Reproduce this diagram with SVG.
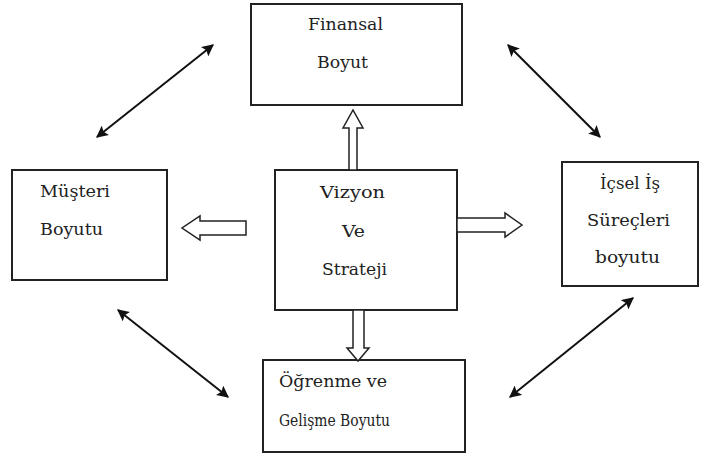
<svg xmlns="http://www.w3.org/2000/svg" width="722" height="457" viewBox="0 0 722 457">
<style>
.box{fill:#fff;stroke:#222;stroke-width:2}
.t{font-family:"DejaVu Serif",serif;font-size:16px;fill:#222}
.blk{fill:#fff;stroke:#222;stroke-width:1.5;stroke-linejoin:miter}
.dl{stroke:#111;stroke-width:2;fill:none;marker-start:url(#ah);marker-end:url(#ah)}
</style>
<defs>
<marker id="ah" viewBox="0 0 10 10" refX="9" refY="5" markerWidth="6" markerHeight="6" orient="auto-start-reverse" markerUnits="strokeWidth">
<path d="M0,0 L10,5 L0,10 L2,5 Z" fill="#111"/>
</marker>
</defs>
<rect width="722" height="457" fill="#fff"/>
<g id="finansal">
<rect class="box" x="251" y="4" width="211" height="101"/>
<text class="t" x="308" y="30" textLength="75" lengthAdjust="spacingAndGlyphs">Finansal</text>
<text class="t" x="317" y="68" textLength="51" lengthAdjust="spacingAndGlyphs">Boyut</text>
</g>
<g id="musteri">
<rect class="box" x="12" y="170" width="155" height="110"/>
<text class="t" x="40" y="197" textLength="70" lengthAdjust="spacingAndGlyphs">Müşteri</text>
<text class="t" x="40" y="235" textLength="63" lengthAdjust="spacingAndGlyphs">Boyutu</text>
</g>
<g id="vizyon">
<rect class="box" x="275" y="170" width="182" height="140"/>
<text class="t" x="320" y="198" textLength="65" lengthAdjust="spacingAndGlyphs">Vizyon</text>
<text class="t" x="342" y="237" textLength="23" lengthAdjust="spacingAndGlyphs">Ve</text>
<text class="t" x="322" y="275" textLength="65" lengthAdjust="spacingAndGlyphs">Strateji</text>
</g>
<g id="icsel">
<rect class="box" x="562" y="162" width="136" height="124"/>
<text class="t" x="600" y="189" textLength="60" lengthAdjust="spacingAndGlyphs">İçsel İş</text>
<text class="t" x="587" y="226" textLength="83" lengthAdjust="spacingAndGlyphs">Süreçleri</text>
<text class="t" x="595" y="263" textLength="65" lengthAdjust="spacingAndGlyphs">boyutu</text>
</g>
<g id="ogrenme">
<rect class="box" x="263" y="360" width="202" height="92"/>
<text class="t" x="279" y="387" textLength="108" lengthAdjust="spacingAndGlyphs">Öğrenme ve</text>
<text class="t" x="279" y="426" textLength="111" lengthAdjust="spacingAndGlyphs">Gelişme Boyutu</text>
</g>
<g id="connectors">
<path class="blk" d="M349,170 L349,128 L343,128 L353,110 L363,128 L357,128 L357,170 Z"/>
<path class="blk" d="M246,221 L200,221 L200,216 L182,228 L200,240 L200,235 L246,235 Z"/>
<path class="blk" d="M457,218 L505,218 L505,213 L522,225 L505,237 L505,232 L457,232 Z"/>
<path class="blk" d="M353,310 L353,348 L347,348 L358,361 L369,348 L364,348 L364,310 Z"/>
<line class="dl" x1="97" y1="137" x2="213" y2="45"/>
<line class="dl" x1="508" y1="45" x2="600" y2="137"/>
<line class="dl" x1="118" y1="310" x2="228" y2="397"/>
<line class="dl" x1="633" y1="298" x2="510" y2="397"/>
</g>
</svg>
